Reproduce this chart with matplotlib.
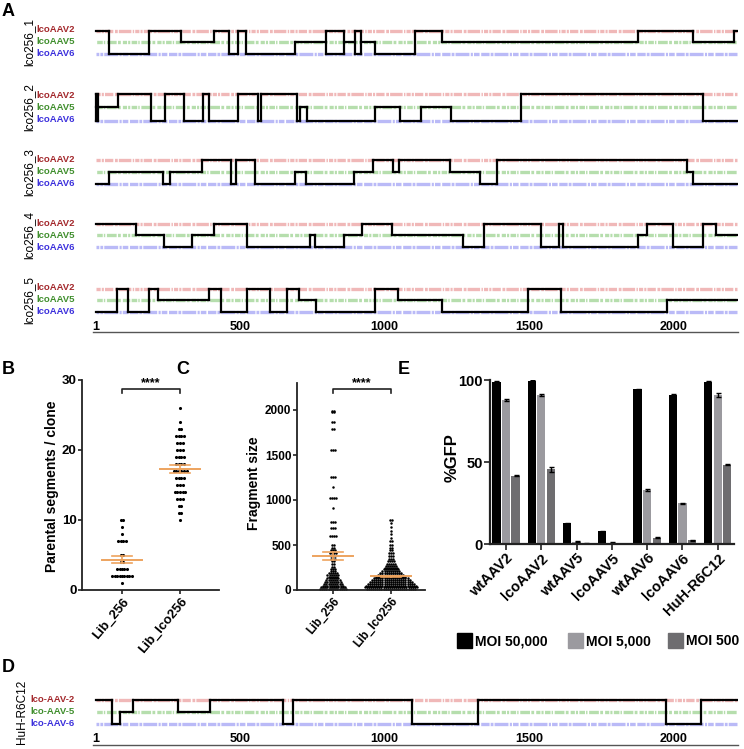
import numpy as np
import matplotlib
matplotlib.use('Agg')
import matplotlib.pyplot as plt

plt.rcParams['font.family'] = ['Liberation Sans', 'DejaVu Sans']
plt.rcParams['lines.scale_dashes'] = False

W, H = 744, 749

# ---------------- data ----------------
# A / D: crossover maps. breakpoints in nt, parent of every segment
# 2 = AAV2, 5 = AAV5, 6 = AAV6, 26 = AAV2 or AAV6, 256 = any of the three
clone_names = ['lco256_1', 'lco256_2', 'lco256_3', 'lco256_4', 'lco256_5']
clone1_breaks = [1, 46, 185, 294, 409, 462, 493, 521, 690, 799, 860, 898, 918, 967, 1105, 1200, 1878, 2070, 2211, 2222]
clone1_parent = [2, 6, 2, 5, 2, 6, 2, 6, 5, 26, 5, 26, 5, 6, 2, 5, 2, 5, 2]
clone2_breaks = [1, 8, 78, 190, 240, 305, 373, 392, 492, 561, 571, 696, 708, 732, 967, 1054, 1127, 1230, 1473, 2105, 2222]
clone2_parent = [256, 5, 2, 6, 2, 6, 2, 6, 2, 6, 2, 6, 5, 6, 5, 6, 5, 6, 2, 6]
clone3_breaks = [1, 46, 233, 258, 369, 468, 485, 552, 690, 729, 896, 962, 1031, 1050, 1227, 1331, 1391, 2047, 2070, 2222]
clone3_parent = [6, 5, 6, 5, 2, 6, 2, 6, 5, 6, 5, 2, 5, 2, 5, 6, 2, 5, 6]
clone4_breaks = [1, 140, 238, 335, 409, 524, 743, 760, 859, 921, 1027, 1271, 1345, 1542, 1605, 1620, 1879, 1909, 2001, 2105, 2149, 2222]
clone4_parent = [2, 5, 6, 5, 2, 6, 5, 6, 5, 2, 5, 6, 2, 6, 2, 6, 5, 2, 6, 2, 5]
clone5_breaks = [1, 73, 111, 185, 215, 393, 434, 524, 605, 662, 705, 762, 967, 1048, 1200, 1498, 1611, 1978, 2222]
clone5_parent = [6, 2, 6, 2, 5, 2, 6, 2, 6, 2, 5, 6, 2, 5, 6, 2, 6, 5]
huh_breaks = [1, 57, 84, 128, 284, 396, 650, 684, 1097, 1325, 1974, 2097, 2222]
huh_parent = [2, 6, 5, 2, 5, 2, 6, 2, 6, 2, 6, 2]
map_ticks = [1, 500, 1000, 1500, 2000]
parents_A = ['lcoAAV2', 'lcoAAV5', 'lcoAAV6']
parents_D = ['lco-AAV-2', 'lco-AAV-5', 'lco-AAV-6']

# B: parental segments per clone (value, number of clones)
seg_lib256_val = [1, 2, 3, 4, 5, 7, 8, 9, 10]
seg_lib256_cnt = [1, 9, 5, 2, 2, 4, 1, 1, 2]
seg_lco_val = [10, 11, 12, 13, 14, 15, 16, 17, 18, 19, 20, 21, 22, 23, 24, 26]
seg_lco_cnt = [1, 2, 2, 3, 5, 3, 4, 6, 4, 4, 3, 3, 4, 2, 1, 1]

# C: fragment size (nt, number of fragments)
frag_lib256_val = [10, 30, 50, 70, 90, 110, 130, 150, 170, 190, 210, 230, 260, 290, 320, 350, 380, 410, 440,
                   470, 500, 600, 690, 760, 910, 1020, 1150, 1260, 1556, 1785, 1870, 1975, 1990]
frag_lib256_cnt = [13, 12, 10, 9, 8, 7, 6, 5, 6, 5, 3, 3, 2, 2, 2, 3, 3, 4, 3,
                   2, 2, 4, 3, 3, 1, 4, 1, 3, 3, 2, 2, 2, 2]
frag_lco_val = [10, 30, 50, 70, 90, 110, 130, 150, 170, 190, 210, 230, 250, 270, 290,
                320, 350, 380, 410, 440, 470, 500, 540, 580, 620, 660, 700, 740, 780]
frag_lco_cnt = [24, 26, 25, 23, 21, 19, 17, 15, 13, 11, 9, 8, 7, 6, 5,
                4, 3, 3, 3, 2, 2, 2, 2, 1, 1, 1, 1, 1, 2]
lib_names = ['Lib_256', 'Lib_lco256']

# E: %GFP
gfp_groups = ['wtAAV2', 'lcoAAV2', 'wtAAV5', 'lcoAAV5', 'wtAAV6', 'lcoAAV6', 'HuH-R6C12']
moi_50000 = [99.0, 99.4, 12.6, 7.9, 94.5, 90.9, 99.0]
moi_5000 = [87.8, 90.9, 1.4, 0.9, 32.9, 24.8, 90.9]
moi_500 = [41.5, 45.5, 0.3, 0.2, 3.8, 2.4, 48.2]
err_50000 = [0.3, 0.3, 0.3, 0.3, 0.3, 0.6, 0.3]
err_5000 = [0.5, 0.7, 0.2, 0.2, 0.8, 0.5, 1.4]
err_500 = [0.3, 1.5, 0.1, 0.1, 0.3, 0.3, 0.3]
moi_names = ['MOI 50,000', 'MOI 5,000', 'MOI 500']

# ---------------- style ----------------
TXT = {2: '#a3282c', 5: '#3f8e2c', 6: '#3b2fdc'}
LIGHT = {2: '#f0b8b8', 5: '#b6dead', 6: '#babaf7'}
ORANGE = '#eda35e'
BAR_COLS = ['#000000', '#9b9a9f', '#6e6d70']
XL = (-9.4, 2224.7)


def px_box(x0, y0, x1, y1):
    return [x0 / W, 1 - y1 / H, (x1 - x0) / W, (y1 - y0) / H]


def rows_of(p, rows):
    return [rows[int(c)] for c in str(p)]


def draw_map(ax, breaks, parents, yc, gap):
    rows = {2: yc - gap, 5: yc, 6: yc + gap}
    pats = {2: (0, (3, 0.8, 1.5, 0.8, 6, 1.2, 2, 0.8, 9, 1, 1, 0.8)),
            5: (2, (1.5, 1, 4, 0.8, 1, 1.2, 7, 1, 2, 1.5, 3, 0.8)),
            6: (4, (6, 0.8, 2, 0.8, 10, 1, 1.5, 0.8, 4, 1.2))}
    for c in (2, 5, 6):
        ax.plot([breaks[0], breaks[-1]], [rows[c]] * 2, color=LIGHT[c], lw=2.4,
                ls=pats[c], solid_capstyle='butt', zorder=1)
    for i, p in enumerate(parents):
        for y in rows_of(p, rows):
            ax.plot([breaks[i], breaks[i + 1]], [y, y], color='k', lw=1.6,
                    solid_capstyle='projecting', zorder=3)
    for j in range(len(breaks)):
        near = []
        if j > 0:
            near += rows_of(parents[j - 1], rows)
        if j < len(parents):
            near += rows_of(parents[j], rows)
        if max(near) > min(near):
            ax.plot([breaks[j]] * 2, [min(near), max(near)], color='k', lw=1.6,
                    solid_capstyle='projecting', zorder=3)


def swarm(ax, vals, cnts, x0, dx, s):
    xs, ys = [], []
    for v, c in zip(vals, cnts):
        xs += list(x0 + (np.arange(c) - (c - 1) / 2) * dx)
        ys += [v] * c
    ax.scatter(xs, ys, s=s, color='k', lw=0, zorder=2, clip_on=False)
    allv = np.repeat(vals, cnts)
    m = allv.mean()
    e = allv.std(ddof=1) / np.sqrt(len(allv))
    ax.plot([x0 - 0.34, x0 + 0.34], [m, m], color=ORANGE, lw=1.4, zorder=4)
    for yy in (m - e, m + e):
        ax.plot([x0 - 0.17, x0 + 0.17], [yy, yy], color=ORANGE, lw=1.2, zorder=4)
    ax.plot([x0, x0], [m - e, m + e], color=ORANGE, lw=1.2, zorder=4)


def style_axes(ax, fs):
    for s in ('top', 'right'):
        ax.spines[s].set_visible(False)
    for s in ('left', 'bottom'):
        ax.spines[s].set_linewidth(1.3)
        ax.spines[s].set_color('#222222')
    ax.tick_params(length=3, width=1.2, color='#222222', labelsize=fs, pad=1)
    for t in ax.get_yticklabels():
        t.set_fontweight('bold')


def bracket(ax, y0, y1, label, fs):
    ax.plot([0, 0, 1, 1], [y0, y1, y1, y0], color='#222222', lw=1.2, clip_on=False)
    ax.text(0.5, y1, label, ha='center', va='bottom', fontsize=fs, fontweight='bold')


fig = plt.figure(figsize=(W / 100, H / 100), dpi=100)

# ---------------- A ----------------
axA = fig.add_axes(px_box(93, 15, 738, 340))
axA.set_xlim(XL)
axA.set_ylim(340, 15)
axA.axis('off')
clone_breaks = [clone1_breaks, clone2_breaks, clone3_breaks, clone4_breaks, clone5_breaks]
clone_parent = [clone1_parent, clone2_parent, clone3_parent, clone4_parent, clone5_parent]
track_y = [42, 107, 172, 235, 300]
track_gap = [11.5, 13.5, 12, 11.5, 11.5]
for b, p, yc, g in zip(clone_breaks, clone_parent, track_y, track_gap):
    draw_map(axA, b, p, yc, g)
axA.plot(XL, [332, 332], color='#555555', lw=1.0, clip_on=False)
for t in map_ticks:
    axA.text(t, 327, str(t), ha='center', va='center', fontsize=9, fontweight='bold')

# ---------------- D ----------------
axD = fig.add_axes(px_box(93, 688, 738, 749))
axD.set_xlim(XL)
axD.set_ylim(749, 688)
axD.axis('off')
draw_map(axD, huh_breaks, huh_parent, 712, 12)
axD.plot(XL, [745, 745], color='#555555', lw=1.0, clip_on=False)
for t in map_ticks:
    axD.text(t, 739, str(t), ha='center', va='center', fontsize=9, fontweight='bold')

# ---------------- B ----------------
axB = fig.add_axes(px_box(82, 380, 219, 590))
axB.set_xlim(-0.69, 1.67)
axB.set_ylim(0, 30)
swarm(axB, seg_lib256_val, seg_lib256_cnt, 0, 0.042, 5)
swarm(axB, seg_lco_val, seg_lco_cnt, 1, 0.045, 5)
axB.set_yticks([0, 10, 20, 30])
axB.set_xticks([0, 1])
axB.set_xticklabels(lib_names, rotation=50, ha='right', rotation_mode='anchor',
                    fontsize=9.5, fontweight='bold')
style_axes(axB, 9.5)
bracket(axB, 28.1, 28.7, '****', 9)

# ---------------- C ----------------
axC = fig.add_axes(px_box(297, 383, 425, 590))
axC.set_xlim(-0.62, 1.59)
axC.set_ylim(0, 2300)
swarm(axC, frag_lib256_val, frag_lib256_cnt, 0, 0.038, 3.2)
swarm(axC, frag_lco_val, frag_lco_cnt, 1, 0.036, 3.2)
axC.set_yticks([0, 500, 1000, 1500, 2000])
axC.set_xticks([0, 1])
axC.set_xticklabels(lib_names, rotation=50, ha='right', rotation_mode='anchor',
                    fontsize=9, fontweight='bold')
style_axes(axC, 8.5)
bracket(axC, 2189, 2233, '****', 9)

# ---------------- E ----------------
axE = fig.add_axes(px_box(490, 380, 734, 544))
x = np.arange(len(gfp_groups))
bw = 0.235
for k, (vals, errs) in enumerate(zip([moi_50000, moi_5000, moi_500], [err_50000, err_5000, err_500])):
    axE.bar(x + (k - 1) * 0.27, vals, width=bw, color=BAR_COLS[k], yerr=errs,
            error_kw=dict(ecolor='k', elinewidth=1, capsize=1.8, capthick=1), zorder=2)
axE.set_xlim(-0.453, 6.46)
axE.set_ylim(0, 100)
axE.set_yticks([0, 50, 100])
axE.set_xticks(x)
axE.set_xticklabels(gfp_groups, rotation=45, ha='right', rotation_mode='anchor',
                    fontsize=11, fontweight='bold')
style_axes(axE, 10.5)
axE.tick_params(length=4)
axE.spines['left'].set_linewidth(1.6)
axE.spines['bottom'].set_linewidth(1.6)

# ---------------- labels in pixel space ----------------
ov = fig.add_axes([0, 0, 1, 1], facecolor='none')
ov.set_xlim(0, W)
ov.set_ylim(H, 0)
ov.axis('off')
for name, yc in zip(clone_names, track_y):
    ov.text(29, yc, name, rotation=90, ha='center', va='center', fontsize=8.5)
    for lab, c, dy in zip(parents_A, (2, 5, 6), (-12, 0, 12)):
        ov.text(75, yc + dy, lab, ha='right', va='center', fontsize=6.8,
                fontweight='bold', color=TXT[c])
ov.text(22, 712, 'HuH-R6C12', rotation=90, ha='center', va='center', fontsize=8.5)
for lab, c, dy in zip(parents_D, (2, 5, 6), (-12, 0, 12)):
    ov.text(75, 712 + dy, lab, ha='right', va='center', fontsize=6.8,
            fontweight='bold', color=TXT[c])

ov.text(52, 486, 'Parental segments / clone', rotation=90, ha='center', va='center',
        fontsize=10, fontweight='bold')
ov.text(254, 483, 'Fragment size', rotation=90, ha='center', va='center',
        fontsize=10, fontweight='bold')
ov.text(452, 458, '%GFP', rotation=90, ha='center', va='center',
        fontsize=12, fontweight='bold')

# legend of E
for lab, col, x0 in zip(moi_names, BAR_COLS, (457, 568, 668)):
    ov.add_patch(plt.Rectangle((x0, 633), 15, 15, color=col))
    ov.text(x0 + 18, 641, lab, ha='left', va='center', fontsize=10, fontweight='bold')

for letter, (lx, ly) in zip('ABCED', [(8, 12), (8, 370), (183, 370), (404, 370), (8, 668)]):
    ov.text(lx, ly, letter, ha='center', va='center', fontsize=13, fontweight='bold')

fig.savefig('out.png', dpi=100)
